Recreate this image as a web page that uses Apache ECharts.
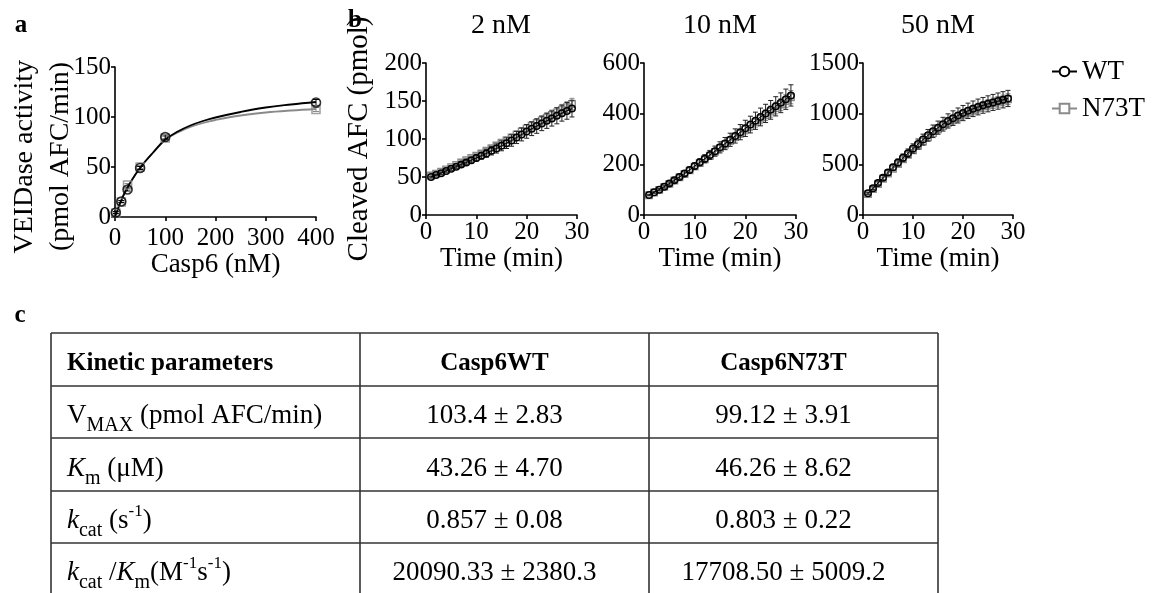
<!DOCTYPE html>
<html><head><meta charset="utf-8">
<script src="https://cdn.jsdelivr.net/npm/echarts@6/dist/echarts.min.js"></script>
<style>html,body{margin:0;padding:0;background:#fff}#c{width:1157px;height:593px}</style>
</head><body><div id="c"></div>
<script>
// ---------- Panel a data ----------
const casp6Conc = [1.56, 12.5, 25, 50, 100, 400];
const wtActivity = [4.5, 15.5, 27.5, 49, 80, 114.5];
const wtActivityErr = [1, 1, 1.5, 1.5, 2, 3];
const n73tActivity = [4, 15, 32, 50, 79, 107.5];
const n73tActivityErr = [1, 1, 1.5, 1.5, 1.5, 2];
const fitConc = [0, 5, 10, 15, 20, 25, 30, 40, 50, 60, 75, 100, 125, 150, 175, 200, 250, 300, 350, 400];
const wtFit   = [0, 7, 13.5, 19.5, 25, 29.5, 34, 42, 49, 55.5, 64, 77.5, 85.5, 91.5, 96, 99.5, 105, 109.5, 112.5, 115];
const n73tFit = [0, 7, 13.5, 19.5, 25, 29.5, 34, 42, 49, 55.5, 64, 77, 84.5, 90, 94, 97, 101.5, 104.5, 106.5, 108];

// ---------- Panel b data ----------
const timeMin = [1, 2, 3, 4, 5, 6, 7, 8, 9, 10, 11, 12, 13, 14, 15, 16, 17, 18, 19, 20, 21, 22, 23, 24, 25, 26, 27, 28, 29];
const b2nmWT      = [50, 52.5, 55, 58, 61, 63.5, 66.5, 69, 72, 75, 78, 81, 84.5, 87.5, 91, 94.5, 98, 102, 106, 110, 113.5, 117, 120.5, 124, 127, 130.5, 134, 137, 140];
const b2nmWTErr   = [1, 1, 1.5, 1.5, 2, 2, 2.5, 3, 3.5, 4, 4.5, 5, 5.5, 6, 6.5, 7, 7.5, 8, 8.5, 9, 9, 9.5, 9.5, 10, 10, 10.5, 10.5, 11, 11];
const b2nmN73T    = [52, 54.5, 57, 60, 63, 66, 69, 72, 75, 78, 81, 84.5, 88, 91.5, 95, 98.5, 102, 106, 110, 114, 117.5, 121, 124.5, 128, 131.5, 135, 138.5, 142, 146];
const b2nmN73TErr = [1, 1, 1, 1.5, 1.5, 2, 2, 2, 2.5, 2.5, 3, 3, 3.5, 3.5, 4, 4, 4.5, 4.5, 5, 5, 5.5, 5.5, 6, 6, 6.5, 6.5, 7, 7, 7.5];
const b10nmWT      = [79, 90, 100, 112, 124, 137, 150, 164, 178, 193, 208, 222, 237, 252, 267, 282, 297, 312, 327, 342, 357, 372, 387, 401, 415, 429, 443, 457, 472];
const b10nmWTErr   = [3, 4, 5, 6, 7, 8, 9, 10, 11, 12, 14, 16, 18, 20, 22, 24, 26, 28, 30, 32, 33, 34, 35, 36, 37, 38, 39, 40, 42];
const b10nmN73T    = [78, 89, 99, 111, 123, 136, 149, 162, 176, 191, 205, 220, 234, 249, 264, 278, 293, 308, 322, 337, 351, 366, 380, 394, 408, 422, 436, 450, 465];
const b10nmN73TErr = [2, 3, 3, 4, 4, 5, 5, 6, 6, 7, 8, 9, 10, 11, 12, 13, 14, 15, 16, 17, 18, 19, 20, 21, 22, 23, 24, 25, 26];
const b50nmWT      = [214, 264, 316, 368, 420, 470, 518, 564, 610, 656, 700, 744, 786, 826, 862, 896, 928, 956, 982, 1006, 1028, 1048, 1066, 1082, 1097, 1111, 1124, 1137, 1150];
const b50nmWTErr   = [10, 14, 18, 22, 26, 30, 34, 38, 42, 46, 50, 54, 58, 62, 65, 68, 70, 72, 74, 75, 76, 77, 78, 78, 79, 79, 80, 80, 80];
const b50nmN73T    = [206, 255, 306, 357, 408, 457, 504, 549, 594, 639, 683, 726, 768, 808, 845, 879, 911, 940, 967, 992, 1015, 1036, 1055, 1072, 1088, 1103, 1117, 1130, 1143];
const b50nmN73TErr = [8, 10, 12, 14, 16, 18, 20, 22, 24, 26, 28, 30, 32, 34, 36, 38, 40, 42, 44, 45, 46, 47, 48, 49, 50, 51, 52, 53, 54];
const panelBTitles = ['2 nM', '10 nM', '50 nM'];
const legendNames = ['WT', 'N73T'];

// ---------- Panel c table ----------
const tableHeaders = ['Kinetic parameters', 'Casp6WT', 'Casp6N73T'];
const tableParams = [
  '{n|V}{sub|MAX}{n| (pmol AFC/min)}',
  '{i|K}{sub|m}{n| (μM)}',
  '{i|k}{sub|cat}{n| (s}{sup|-1}{n|)}',
  '{i|k}{sub|cat}{n| /}{i|K}{sub|m}{n|(M}{sup|-1}{n|s}{sup|-1}{n|)}'
];
const tableWT = ['103.4 ± 2.83', '43.26 ± 4.70', '0.857 ± 0.08', '20090.33 ± 2380.3'];
const tableN73T = ['99.12 ± 3.91', '46.26 ± 8.62', '0.803 ± 0.22', '17708.50 ± 5009.2'];

// ---------- styling ----------
const FF = '"Liberation Serif", "Times New Roman", serif';
const BLACK = '#000';
const GRAY = '#8a8a8a';
const TICK_FS = 25;
const TITLE_FS = 27;

function pairs(xs, ys) { return xs.map((x, i) => [x, ys[i]]); }
function errData(xs, ys, es) { return xs.map((x, i) => [x, ys[i] - es[i], ys[i] + es[i]]); }
function errRender(color, cap) {
  return function (params, api) {
    const x = api.value(0), lo = api.value(1), hi = api.value(2);
    const p1 = api.coord([x, hi]), p2 = api.coord([x, lo]);
    const st = { stroke: color, lineWidth: 1 };
    return { type: 'group', children: [
      { type: 'line', shape: { x1: p1[0], y1: p1[1], x2: p2[0], y2: p2[1] }, style: st },
      { type: 'line', shape: { x1: p1[0] - cap, y1: p1[1], x2: p1[0] + cap, y2: p1[1] }, style: st },
      { type: 'line', shape: { x1: p2[0] - cap, y1: p2[1], x2: p2[0] + cap, y2: p2[1] }, style: st }
    ]};
  };
}

const axisCommon = {
  axisLine: { show: true, lineStyle: { color: BLACK, width: 1.6 } },
  axisTick: { show: true, length: 4, lineStyle: { color: BLACK, width: 1.6 } },
  splitLine: { show: false },
  axisLabel: { color: BLACK, fontSize: TICK_FS, fontFamily: FF, margin: 4, formatter: v => String(v) },
  nameTextStyle: { color: BLACK, fontSize: TITLE_FS, fontFamily: FF }
};
function xAx(gi, max, interval, name, labelMargin, nameGap) {
  return Object.assign({}, axisCommon, { type: 'value', gridIndex: gi, min: 0, max: max, interval: interval,
    name: name, nameLocation: 'middle', nameGap: nameGap,
    axisLabel: Object.assign({}, axisCommon.axisLabel, { margin: labelMargin }) });
}
function yAx(gi, max, interval, name, gap) {
  const o = Object.assign({}, axisCommon, { type: 'value', gridIndex: gi, min: 0, max: max, interval: interval });
  if (name) {
    o.name = name; o.nameLocation = 'middle'; o.nameGap = gap;
    o.nameTextStyle = Object.assign({}, axisCommon.nameTextStyle, { fontSize: 29 });
  }
  return o;
}

const grids = [
  { left: 115, top: 67, width: 201, height: 150 },
  { left: 426, top: 63, width: 151, height: 152 },
  { left: 644, top: 63, width: 152, height: 152 },
  { left: 863, top: 63, width: 150, height: 152 }
].map(g => Object.assign({ containLabel: false, outerBoundsMode: 'none' }, g));

const series = [];
// Panel a
series.push({ name: 'N73T fit', type: 'line', xAxisIndex: 0, yAxisIndex: 0, data: pairs(fitConc, n73tFit),
  smooth: 0.4, showSymbol: false, symbol: 'none', lineStyle: { color: GRAY, width: 1.8 }, z: 2 });
series.push({ name: 'WT fit', type: 'line', xAxisIndex: 0, yAxisIndex: 0, data: pairs(fitConc, wtFit),
  smooth: 0.4, showSymbol: false, symbol: 'none', lineStyle: { color: BLACK, width: 1.8 }, z: 3 });
series.push({ name: 'N73T err a', type: 'custom', xAxisIndex: 0, yAxisIndex: 0,
  data: errData(casp6Conc, n73tActivity, n73tActivityErr), renderItem: errRender(GRAY, 3), z: 3 });
series.push({ name: 'N73T pts a', type: 'scatter', xAxisIndex: 0, yAxisIndex: 0, data: pairs(casp6Conc, n73tActivity),
  symbol: 'rect', symbolSize: 8, itemStyle: { color: 'rgba(255,255,255,0)', borderColor: GRAY, borderWidth: 1.6 }, z: 4 });
series.push({ name: 'WT err a', type: 'custom', xAxisIndex: 0, yAxisIndex: 0,
  data: errData(casp6Conc, wtActivity, wtActivityErr), renderItem: errRender(BLACK, 3), z: 4 });
series.push({ name: 'WT pts a', type: 'scatter', xAxisIndex: 0, yAxisIndex: 0, data: pairs(casp6Conc, wtActivity),
  symbol: 'circle', symbolSize: 9, itemStyle: { color: 'rgba(255,255,255,0)', borderColor: BLACK, borderWidth: 1.6 }, z: 5 });

// Panel b
const bSets = [
  [b2nmWT, b2nmWTErr, b2nmN73T, b2nmN73TErr],
  [b10nmWT, b10nmWTErr, b10nmN73T, b10nmN73TErr],
  [b50nmWT, b50nmWTErr, b50nmN73T, b50nmN73TErr]
];
bSets.forEach((s, k) => {
  const ax = k + 1;
  series.push({ name: 'N73T err', type: 'custom', xAxisIndex: ax, yAxisIndex: ax,
    data: errData(timeMin, s[2], s[3]), renderItem: errRender(GRAY, 2.5), z: 2 });
  series.push({ name: 'N73T', type: 'line', xAxisIndex: ax, yAxisIndex: ax, data: pairs(timeMin, s[2]),
    symbol: 'rect', symbolSize: 6.5, showSymbol: true,
    itemStyle: { color: 'rgba(255,255,255,0)', borderColor: GRAY, borderWidth: 1.4 },
    lineStyle: { color: GRAY, width: 1 }, z: 3 });
  series.push({ name: 'WT err', type: 'custom', xAxisIndex: ax, yAxisIndex: ax,
    data: errData(timeMin, s[0], s[1]), renderItem: errRender('#222', 2.5), z: 4 });
  series.push({ name: 'WT', type: 'line', xAxisIndex: ax, yAxisIndex: ax, data: pairs(timeMin, s[0]),
    symbol: 'circle', symbolSize: 6.5, showSymbol: true,
    itemStyle: { color: 'rgba(255,255,255,0)', borderColor: BLACK, borderWidth: 1.5 },
    lineStyle: { color: BLACK, width: 1 }, z: 5 });
});

// ---------- graphics ----------
const graphics = [];
function txt(x, y, text, opts) {
  const st = Object.assign({ text: text, fill: BLACK, fontFamily: FF, fontSize: 26,
    align: 'center', verticalAlign: 'middle' }, opts || {});
  st.textAlign = st.align;
  st.textVerticalAlign = st.verticalAlign;
  return { type: 'text', x: x, y: y, style: st, silent: true };
}
graphics.push(txt(21, 26, 'a', { fontSize: 25, fontWeight: 'bold' }));
graphics.push(txt(355, 21, 'b', { fontSize: 25, fontWeight: 'bold' }));
graphics.push(txt(20, 316, 'c', { fontSize: 25, fontWeight: 'bold' }));
const titleX = [501, 720, 938];
panelBTitles.forEach((t, i) => graphics.push(txt(titleX[i], 26, t, { fontSize: 28 })));
// Panel a y-axis title (two lines, end-aligned)
graphics.push(Object.assign(txt(25, 60, 'VEIDase activity', { fontSize: 28, align: 'right' }), { rotation: Math.PI / 2 }));
graphics.push(Object.assign(txt(61, 62, '(pmol AFC/min)', { fontSize: 28, align: 'right' }), { rotation: Math.PI / 2 }));

// Table
const tL = 51, tR = 938, colX = [360, 649], rowY = [333, 386, 438, 491, 543], tB = 600;
const lineSt = { stroke: '#333', lineWidth: 1.6 };
rowY.forEach(y => graphics.push({ type: 'line', shape: { x1: tL, y1: y, x2: tR, y2: y }, style: lineSt, silent: true }));
[tL, colX[0], colX[1], tR].forEach(x => graphics.push({ type: 'line', shape: { x1: x, y1: rowY[0], x2: x, y2: tB }, style: lineSt, silent: true }));
const rowCenters = [];
for (let i = 0; i < rowY.length; i++) rowCenters.push(((rowY[i]) + (i + 1 < rowY.length ? rowY[i + 1] : rowY[i] + 52)) / 2 + 4);
const colCenters = [(colX[0] + colX[1]) / 2 - 10, (colX[1] + tR) / 2 - 10];
graphics.push(txt(67, rowCenters[0], tableHeaders[0], { fontSize: 25, fontWeight: 'bold', align: 'left' }));
graphics.push(txt(colCenters[0], rowCenters[0], tableHeaders[1], { fontSize: 25, fontWeight: 'bold' }));
graphics.push(txt(colCenters[1], rowCenters[0], tableHeaders[2], { fontSize: 25, fontWeight: 'bold' }));
const rich = {
  n: { fontSize: 27, fontFamily: FF, color: BLACK },
  i: { fontSize: 27, fontFamily: FF, fontStyle: 'italic', color: BLACK },
  sub: { fontSize: 20, fontFamily: FF, color: BLACK, padding: [20, 0, 0, 0] },
  sup: { fontSize: 17, fontFamily: FF, color: BLACK, padding: [0, 0, 18, 0] }
};
tableParams.forEach((p, i) => {
  graphics.push(txt(67, rowCenters[i + 1], p, { align: 'left', rich: rich }));
  graphics.push(txt(colCenters[0], rowCenters[i + 1], tableWT[i], { fontSize: 27 }));
  graphics.push(txt(colCenters[1], rowCenters[i + 1], tableN73T[i], { fontSize: 27 }));
});

const option = {
  backgroundColor: '#fff',
  animation: false,
  grid: grids,
  xAxis: [
    xAx(0, 400, 100, 'Casp6 (nM)', 9, 27),
    xAx(1, 30, 10, 'Time (min)', 5, 24),
    xAx(2, 30, 10, 'Time (min)', 5, 24),
    xAx(3, 30, 10, 'Time (min)', 5, 24)
  ],
  yAxis: [
    yAx(0, 150, 50),
    yAx(1, 200, 50, 'Cleaved AFC (pmol)', 52),
    yAx(2, 600, 200),
    yAx(3, 1500, 500)
  ],
  legend: {
    data: legendNames, orient: 'vertical', left: 1046, top: 53,
    itemWidth: 25, itemHeight: 12, itemGap: 10,
    textStyle: { color: BLACK, fontSize: 27, fontFamily: FF },
    itemStyle: { color: '#fff' }
  },
  series: series,
  graphic: { elements: graphics }
};
const chart = echarts.init(document.getElementById('c'), null, { renderer: 'canvas' });
chart.setOption(option);
</script></body></html>
